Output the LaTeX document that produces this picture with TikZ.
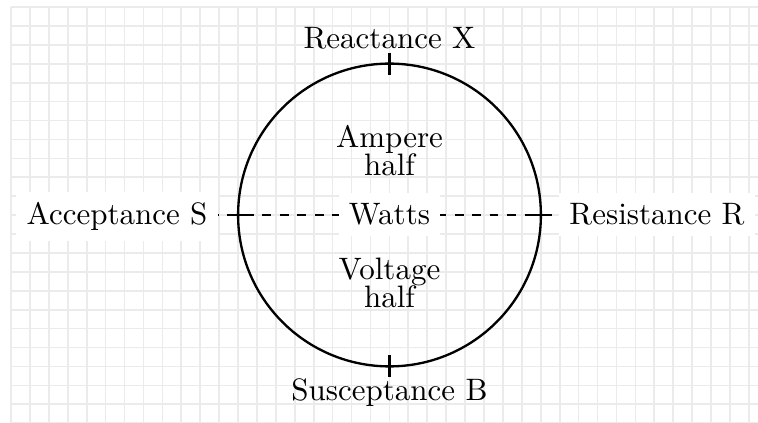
\documentclass[tikz,border=0pt]{standalone}
\begin{document}
\begin{tikzpicture}[x=0.3226pt,y=-0.3226pt,
  gridline/.style={draw=black!8,line width=0.55pt},
  ring/.style={line width=0.75pt},
  tickline/.style={line width=0.75pt},
  axisline/.style={line width=0.6pt,dash pattern=on 2.82pt off 2.82pt},
  lbl/.style={inner sep=3.33pt},
  plate/.style={fill=white,inner sep=3.33pt},
  halfbox/.style={align=center,inner sep=3.33pt}]
\useasboundingbox (0,0) rectangle (758,423);
\fill[white] (0,0) rectangle (758,423);
\foreach \i in {0,...,39} \draw[gridline] ({11+18.92*\i},7) -- ({11+18.92*\i},423);
\foreach \j in {0,...,22} \draw[gridline] (11,{7+18.92*\j}) -- (758,{7+18.92*\j});
\coordinate (O) at (389.5,215);
\draw[ring] (O) circle[radius=151.4];
\coordinate (dl) at (210,215);
\coordinate (dr) at (569,215);
\draw[axisline] (dl) -- (dr);
\draw[tickline] (389.5,52.6) -- (389.5,74.6);
\draw[tickline] (389.5,355.4) -- (389.5,377.4);
\draw[tickline] (227.1,215) -- (249.1,215);
\draw[tickline] (529.9,215) -- (551.9,215);
\node[lbl,anchor=base] (X) at (389.5,48.3) {Reactance X};
\node[lbl,anchor=base] (B) at (389.5,401) {Susceptance B};
\node[plate,anchor=base] (S) at (117,224.5) {Acceptance S};
\node[plate,anchor=base] (R) at (657,224.5) {Resistance R};
\node[plate,anchor=base] (W) at (389.5,224.5) {Watts};
\node[halfbox] (A) at (389.5,151) {Ampere\\[-3pt]half};
\node[halfbox] (V) at (389.5,282.5) {Voltage\\[-3pt]half};
\end{tikzpicture}
\end{document}
